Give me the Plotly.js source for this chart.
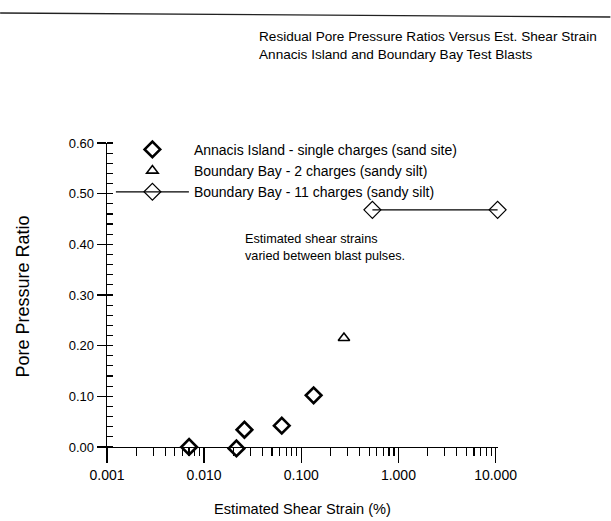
<!DOCTYPE html>
<html><head><meta charset="utf-8">
<script src="https://cdn.plot.ly/plotly-3.0.1.min.js"></script>
<style>html,body{margin:0;padding:0;background:#fff}</style>
</head><body><div id="chart" style="width:611px;height:521px"></div>
<script>
// ---- data ----
const annacisName = 'Annacis Island - single charges (sand site)';
const annacisStrain = [0.0070, 0.0215, 0.026, 0.063, 0.134];
const annacisRatio  = [0.000, -0.003, 0.034, 0.042, 0.102];

const bb2Name = 'Boundary Bay - 2 charges (sandy silt)';
const bb2Strain = [0.275];
const bb2Ratio  = [0.215];

const bb11Name = 'Boundary Bay - 11 charges (sandy silt)';
const bb11Strain = [0.54, 10.5];
const bb11Ratio  = [0.468, 0.468];

const xTickVals = [0.001, 0.01, 0.1, 1, 10];
const xTickText = ['0.001', '0.010', '0.100', '1.000', '10.000'];
const yTickVals = [0.0, 0.1, 0.2, 0.3, 0.4, 0.5, 0.6];
const yTickText = ['0.00', '0.10', '0.20', '0.30', '0.40', '0.50', '0.60'];
const minorDigits = [2, 3, 4, 5, 6, 7, 8, 9];

const titleText = 'Residual Pore Pressure Ratios Versus Est. Shear Strain<br>Annacis Island and Boundary Bay Test Blasts';
const noteText = 'Estimated shear strains<br>varied between blast pulses.';
const xTitle = 'Estimated Shear Strain (%)';
const yTitle = 'Pore Pressure Ratio';

// minor tick positions for the log axis (2..9 within each decade)
const xMinor = [];
xTickVals.slice(0, -1).forEach(d => minorDigits.forEach(k => xMinor.push(d * k)));

const FONT = 'Liberation Sans, Arial, sans-serif';

// axis ranges (slightly padded so edge points are still drawn)
const xRange = [-3, 1.0253];
const yRange = [-0.006, 0.6];

const traces = [
  { x: annacisStrain, y: annacisRatio, name: annacisName, type: 'scatter', mode: 'markers',
    cliponaxis: false,
    marker: { symbol: 'diamond-open', size: 12, color: '#000', line: { color: '#000', width: 2.6 } } },
  { x: bb2Strain, y: bb2Ratio, name: bb2Name, type: 'scatter', mode: 'markers',
    cliponaxis: false,
    marker: { symbol: 'triangle-up-open', size: 10, color: '#000', line: { color: '#000', width: 1.6 } } },
  { x: bb11Strain, y: bb11Ratio, name: bb11Name, type: 'scatter', mode: 'lines+markers',
    cliponaxis: false,
    line: { color: '#000', width: 1.2 },
    marker: { symbol: 'diamond-open', size: 13, color: '#000', line: { color: '#000', width: 1.2 } } }
];

const layout = {
  width: 611, height: 521,
  paper_bgcolor: '#fff', plot_bgcolor: '#fff',
  margin: { l: 107, r: 112.5, t: 143, b: 71 },
  font: { family: FONT, color: '#000', size: 13 },
  showlegend: true,
  title: { text: titleText, xref: 'container', x: 259 / 611, xanchor: 'left',
           yref: 'container', y: 1 - 41 / 521, yanchor: 'top',
           font: { family: FONT, size: 13.6, color: '#000' } },
  legend: { x: 0.0100, xanchor: 'left', y: 1.03, yanchor: 'top', bgcolor: 'rgba(0,0,0,0)',
            itemwidth: 73, font: { family: FONT, size: 14, color: '#000' }, tracegroupgap: 0 },
  xaxis: {
    type: 'log', range: xRange, showgrid: false, zeroline: false,
    anchor: 'free', position: 0.006 / 0.606,
    showline: true, linecolor: '#000', linewidth: 1.4,
    tickmode: 'array', tickvals: xTickVals, ticktext: xTickText,
    ticks: 'outside', ticklen: 15, tickwidth: 1.4, tickcolor: '#000',
    tickfont: { family: FONT, size: 14, color: '#000' },
    minor: { tickmode: 'array', tickvals: xMinor, ticks: 'outside', ticklen: 8, tickwidth: 1.2, tickcolor: '#000', showgrid: false },
    title: { text: xTitle, standoff: 21, font: { family: FONT, size: 14.6, color: '#000' } }
  },
  yaxis: {
    range: yRange, showgrid: false, zeroline: false,
    showline: true, linecolor: '#000', linewidth: 1.4,
    tickmode: 'array', tickvals: yTickVals, ticktext: yTickText,
    ticks: 'outside', ticklen: 9, tickwidth: 1.2, tickcolor: '#000',
    tickfont: { family: FONT, size: 13, color: '#000' },
    minor: { dtick: 0.02, tick0: 0, ticks: 'inside', ticklen: 6, tickwidth: 1.2, tickcolor: '#000', showgrid: false },
    title: { text: yTitle, standoff: 34, font: { family: FONT, size: 18, color: '#000' } }
  },
  annotations: [
    { text: noteText, xref: 'paper', yref: 'paper', x: (243 - 107) / 391.5, y: (449 - 229) / 307,
      xanchor: 'left', yanchor: 'top', align: 'left', showarrow: false,
      font: { family: FONT, size: 12.7, color: '#000' } }
  ],
  shapes: [
    { type: 'line', xref: 'paper', yref: 'paper', x0: -107 / 391.5, x1: 504 / 391.5,
      y0: (449 - 12) / 307, y1: (449 - 16) / 307, line: { color: '#222', width: 1.3 } }
  ]
};

Plotly.newPlot('chart', traces, layout, { displayModeBar: false, staticPlot: true });
</script>
</body></html>
